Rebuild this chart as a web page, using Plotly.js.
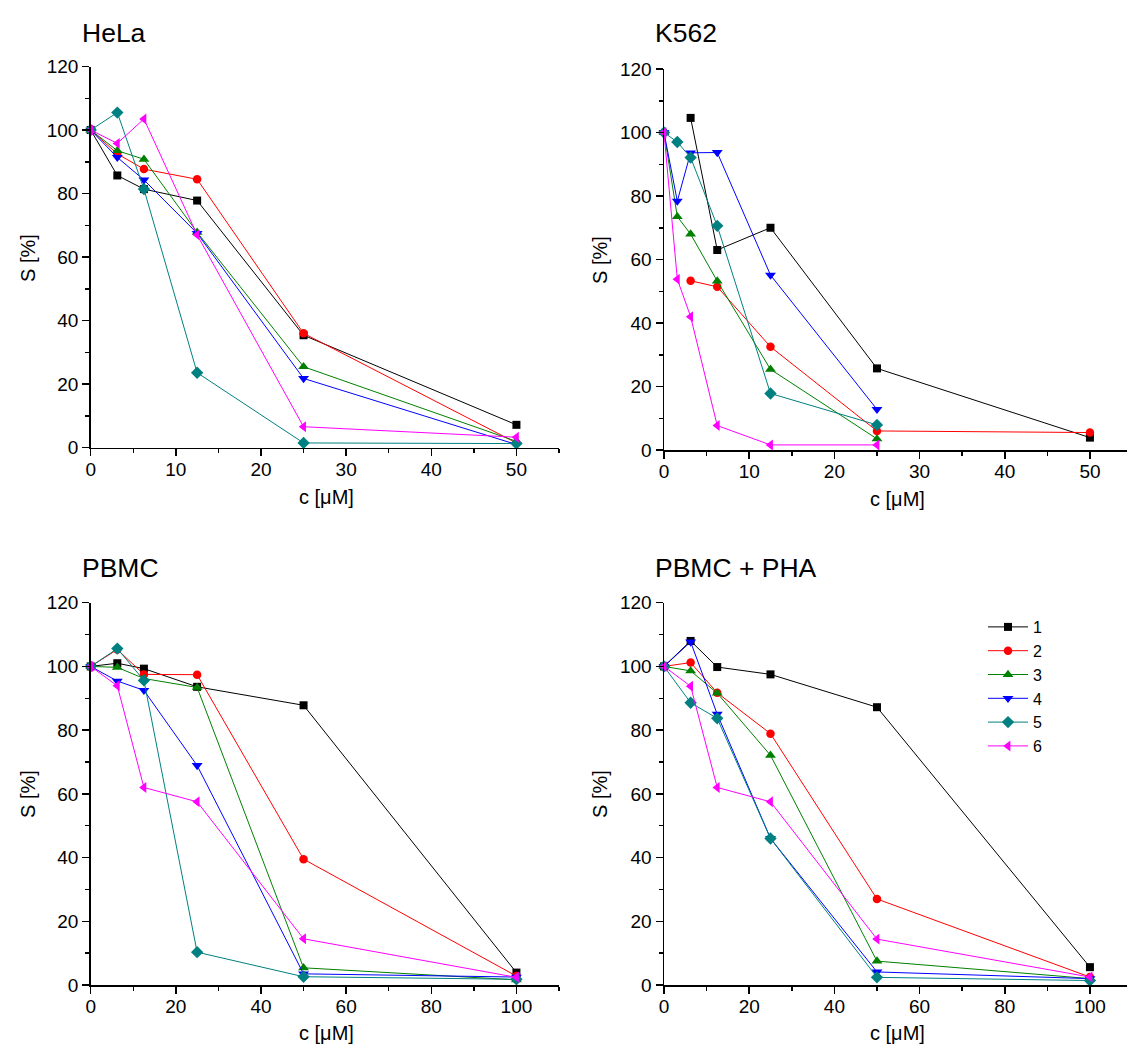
<!DOCTYPE html>
<html>
<head>
<meta charset="utf-8">
<script src="https://cdn.plot.ly/plotly-3.0.1.min.js"></script>
<style>
html,body{margin:0;padding:0;background:#fff;overflow:hidden;}
#chart{width:1127px;height:1047px;}
</style>
</head>
<body>
<div id="chart"></div>
<script>
// ---- Data ----
const seriesNames = ["1", "2", "3", "4", "5", "6"];
const panelTitles = ["HeLa", "K562", "PBMC", "PBMC + PHA"];

// HeLa
const helaX = [0, 3.125, 6.25, 12.5, 25, 50];
const hela1 = [100, 85.7, 81.4, 77.8, 35.4, 7.2];
const hela2 = [100, 92.5, 87.7, 84.5, 36.0, 1.5];
const hela3 = [100, 93.5, 90.8, 67.8, 25.5, 2.0];
const hela4 = [100, 91.4, 84.3, 67.5, 21.8, 1.0];
const hela5 = [100, 105.5, 81.4, 23.6, 1.5, 1.3];
const hela6 = [100, 95.8, 103.5, 67.0, 6.6, 3.3];

// K562
const k562XLate = [3.125, 6.25, 12.5, 25, 50];
const k562XShort = [0, 1.5625, 3.125, 6.25, 12.5, 25];
const k5621 = [104.6, 63.0, 70.0, 25.7, 3.9];
const k5622 = [53.3, 51.4, 32.5, 6.0, 5.5];
const k5623 = [100, 73.5, 68.0, 53.2, 25.4, 3.5];
const k5624 = [100, 78.4, 93.6, 93.7, 55.1, 12.8];
const k5625 = [100, 97.0, 92.1, 70.6, 17.8, 7.9];
const k5626 = [100, 53.8, 42.0, 7.7, 1.6, 1.6];

// PBMC
const pbmcX = [0, 6.25, 12.5, 25, 50, 100];
const pbmc1 = [100, 101.0, 99.3, 93.6, 87.8, 3.9];
const pbmc2 = [100, 105.3, 97.5, 97.4, 39.5, 2.8];
const pbmc3 = [100, 99.7, 96.2, 93.4, 5.4, 1.6];
const pbmc4 = [100, 95.4, 92.5, 68.9, 3.5, 2.5];
const pbmc5 = [100, 105.6, 95.6, 10.3, 2.6, 1.8];
const pbmc6 = [100, 93.9, 62.0, 57.5, 14.5, 2.4];

// PBMC + PHA
const phaX = [0, 6.25, 12.5, 25, 50, 100];
const pha1 = [100, 108.0, 99.8, 97.5, 87.2, 5.6];
const pha2 = [100, 101.2, 91.7, 78.9, 27.0, 2.5];
const pha3 = [100, 98.6, 91.6, 72.1, 7.5, 2.0];
const pha4 = [100, 107.7, 85.0, 46.0, 4.1, 2.0];
const pha5 = [100, 88.6, 83.7, 46.0, 2.4, 1.4];
const pha6 = [100, 93.8, 62.0, 57.5, 14.4, 2.5];

// ---- Styles ----
const colors = ["#000000", "#ff0000", "#008000", "#0000ff", "#008080", "#ff00ff"];
const symbols = ["square", "circle", "triangle-up", "triangle-down", "diamond", "triangle-left"];
const sizes = [8, 8.5, 9.5, 9.5, 9.5, 9.5];

const panels = [
  {ax: "", xs: [helaX, helaX, helaX, helaX, helaX, helaX], ys: [hela1, hela2, hela3, hela4, hela5, hela6]},
  {ax: "2", xs: [k562XLate, k562XLate, k562XShort, k562XShort, k562XShort, k562XShort], ys: [k5621, k5622, k5623, k5624, k5625, k5626]},
  {ax: "3", xs: [pbmcX, pbmcX, pbmcX, pbmcX, pbmcX, pbmcX], ys: [pbmc1, pbmc2, pbmc3, pbmc4, pbmc5, pbmc6]},
  {ax: "4", xs: [phaX, phaX, phaX, phaX, phaX, phaX], ys: [pha1, pha2, pha3, pha4, pha5, pha6]}
];

const traces = [];
panels.forEach((p, pi) => {
  for (let i = 0; i < 6; i++) {
    traces.push({
      type: "scatter", mode: "lines+markers",
      x: p.xs[i], y: p.ys[i],
      xaxis: "x" + p.ax, yaxis: "y" + p.ax,
      name: seriesNames[i],
      showlegend: pi === 3,
      legendgroup: seriesNames[i],
      cliponaxis: false,
      line: {color: colors[i], width: 1},
      marker: {color: colors[i], symbol: symbols[i], size: sizes[i], line: {width: 0}}
    });
  }
});

const W = 1127, H = 1047;
const px = v => v / W;
const py = v => 1 - v / H;

const font = "Arial, 'Liberation Sans', sans-serif";
function xAxis(domain, range, dtick, anchor) {
  return {
    domain: domain, range: range, anchor: anchor,
    tickmode: "linear", tick0: 0, dtick: dtick,
    ticks: "outside", ticklen: 7, tickwidth: 1.5, tickcolor: "#000",
    showline: true, linewidth: 1.5, linecolor: "#000",
    showgrid: false, zeroline: false,
    ticklabelstandoff: -3,
    tickfont: {family: font, size: 19, color: "#000"},
    minor: {dtick: dtick / 2, ticks: "outside", ticklen: 4, tickwidth: 1.5, tickcolor: "#000", showgrid: false}
  };
}
function yAxis(domain, anchor) {
  return {
    domain: domain, range: [0, 120], anchor: anchor,
    tickmode: "linear", tick0: 0, dtick: 20,
    ticks: "outside", ticklen: 7, tickwidth: 1.5, tickcolor: "#000",
    showline: true, linewidth: 1.5, linecolor: "#000",
    showgrid: false, zeroline: false,
    tickfont: {family: font, size: 19, color: "#000"},
    minor: {dtick: 10, ticks: "outside", ticklen: 4, tickwidth: 1.5, tickcolor: "#000", showgrid: false}
  };
}

const xL = [px(90.7), px(559)];
const xR = [px(664), 1];
const yT1 = [py(447.7), py(66.5)];
const yT2 = [py(450), py(69)];
const yB = [py(985), py(602.7)];

const annotations = [];
function ann(text, x, y, size, angle, xanchor) {
  annotations.push({
    text: text, xref: "paper", yref: "paper", x: px(x), y: py(y),
    xanchor: xanchor || "center", yanchor: "middle", showarrow: false,
    textangle: angle || 0, font: {family: font, size: size, color: "#000"}
  });
}
ann(panelTitles[0], 80, 33, 26.5, 0, "left");
ann(panelTitles[1], 653, 33, 26.5, 0, "left");
ann(panelTitles[2], 80, 568, 26.5, 0, "left");
ann(panelTitles[3], 653, 568, 26.5, 0, "left");
ann("S [%]", 28, 258, 20, -90);
ann("S [%]", 600, 260, 20, -90);
ann("S [%]", 28, 794, 20, -90);
ann("S [%]", 600, 794, 20, -90);
ann("c [\u03bcM]", 326, 497, 20);
ann("c [\u03bcM]", 897, 499, 20);
ann("c [\u03bcM]", 326, 1033, 20);
ann("c [\u03bcM]", 897, 1033, 20);

const layout = {
  width: W, height: H,
  margin: {l: 0, r: 0, t: 0, b: 0},
  paper_bgcolor: "#fff", plot_bgcolor: "#fff",
  font: {family: font, color: "#000"},
  xaxis: xAxis(xL, [0, 55], 10, "y"),
  yaxis: yAxis(yT1, "x"),
  xaxis2: xAxis(xR, [0, 54.35], 10, "y2"),
  yaxis2: yAxis(yT2, "x2"),
  xaxis3: xAxis(xL, [0, 110], 20, "y3"),
  yaxis3: yAxis(yB, "x3"),
  xaxis4: xAxis(xR, [0, 108.7], 20, "y4"),
  yaxis4: yAxis(yB, "x4"),
  showlegend: true,
  legend: {
    x: px(983), y: py(610), xanchor: "left", yanchor: "top",
    bgcolor: "rgba(0,0,0,0)", borderwidth: 0,
    font: {family: font, size: 16, color: "#000"},
    tracegroupgap: 0, itemwidth: 40
  },
  annotations: annotations
};

Plotly.newPlot("chart", traces, layout, {displayModeBar: false, staticPlot: true});
</script>
</body>
</html>
